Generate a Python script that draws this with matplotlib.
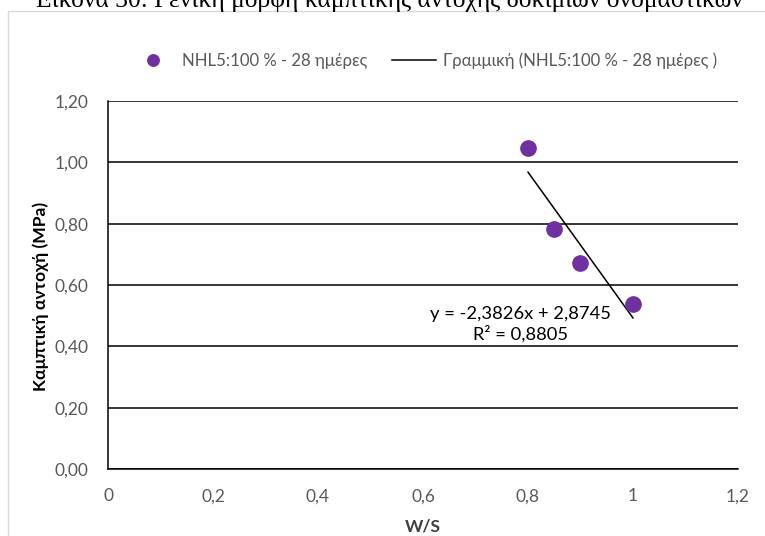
import matplotlib
matplotlib.use("Agg")
import matplotlib.pyplot as plt
import numpy as np
from matplotlib.ticker import FuncFormatter

ws = [0.80, 0.85, 0.90, 1.00]
strength = [1.048, 0.782, 0.671, 0.539]
x_ticks = [0, 0.2, 0.4, 0.6, 0.8, 1.0, 1.2]
y_ticks = [0.0, 0.2, 0.4, 0.6, 0.8, 1.0, 1.2]
series_label = "NHL5:100 % - 28 ημέρες"
trend_label = "Γραμμική (NHL5:100 % - 28 ημέρες )"
eq_text = "y = -2,3826x + 2,8745\nR² = 0,8805"
caption = "Εικόνα 30: Γενική μορφή καμπτικής αντοχής δοκιμίων ονομαστικών"

plt.rcParams['font.family'] = ['Lato', 'DejaVu Sans']

fig = plt.figure(figsize=(7.65, 5.36), dpi=100)
W, H = 765, 536

# chart frame (light gray border)
frame = plt.Rectangle((8 / W, -0.01), 1.0, (536 - 11) / H + 0.01, transform=fig.transFigure,
                      fill=False, edgecolor='#d9d9d9', lw=1.0)
fig.add_artist(frame)

# caption at top (clipped by the image edge, as in the reference)
fig.text(390 / W, 1 - 7 / H, caption, ha='center', va='baseline', fontsize=18.4,
         family='Liberation Serif', color='black')

ax = fig.add_axes([108 / W, (536 - 469) / H, (738 - 108) / W, (469 - 101) / H])
ax.set_xlim(0, 1.2)
ax.set_ylim(0, 1.2)
ax.set_xticks(x_ticks)
ax.set_yticks(y_ticks)

def fmt_x(v, pos):
    s = ('%.1f' % v).rstrip('0').rstrip('.')
    return s.replace('.', ',')

def fmt_y(v, pos):
    return ('%.2f' % v).replace('.', ',')

ax.xaxis.set_major_formatter(FuncFormatter(fmt_x))
ax.yaxis.set_major_formatter(FuncFormatter(fmt_y))
ax.grid(axis='y', color='black', lw=1.1)
ax.set_axisbelow(True)
for s in ['top', 'right']:
    ax.spines[s].set_visible(False)
ax.spines['left'].set_color('black')
ax.spines['bottom'].set_color('black')
ax.spines['left'].set_linewidth(1.1)
ax.spines['bottom'].set_linewidth(1.1)
ax.tick_params(axis='x', length=0, labelsize=12.5, labelcolor='#595959', pad=14)
ax.tick_params(axis='y', length=0, labelsize=12.5, labelcolor='#595959', pad=14)

sc, = ax.plot(ws, strength, 'o', color='#7030A0', markersize=11, label=series_label, zorder=3)

coef = np.polyfit(ws, strength, 1)
xf = np.array([min(ws), max(ws)])
tl, = ax.plot(xf, np.polyval(coef, xf), color='black', lw=1.1, label=trend_label, zorder=2)

ax.text(0.785, 0.472, eq_text, ha='center', va='center', fontsize=13.2, linespacing=1.2,
        color='black', zorder=4)

ax.set_xlabel("W/S", fontsize=12.6, fontweight='bold', color='#404040')
ax.xaxis.label.set_verticalalignment('center')
ax.xaxis.set_label_coords(0.5, -(526 - 469) / 368)
ax.set_ylabel("Καμπτική αντοχή (MPa)", fontsize=12.6, fontweight='bold', color='black')
ax.yaxis.label.set_verticalalignment('center')
ax.yaxis.set_label_coords(-(108 - 41) / 630, (469 - 296) / 368)

leg = fig.legend(handles=[sc, tl], loc='center', bbox_to_anchor=(424 / W, 1 - 61 / H), ncol=2,
                 frameon=False, fontsize=12.1, handlelength=2.6, handletextpad=0.4,
                 columnspacing=1.5, markerscale=0.75)
for t in leg.get_texts():
    t.set_color('#595959')

fig.savefig("out.png", dpi=100)
